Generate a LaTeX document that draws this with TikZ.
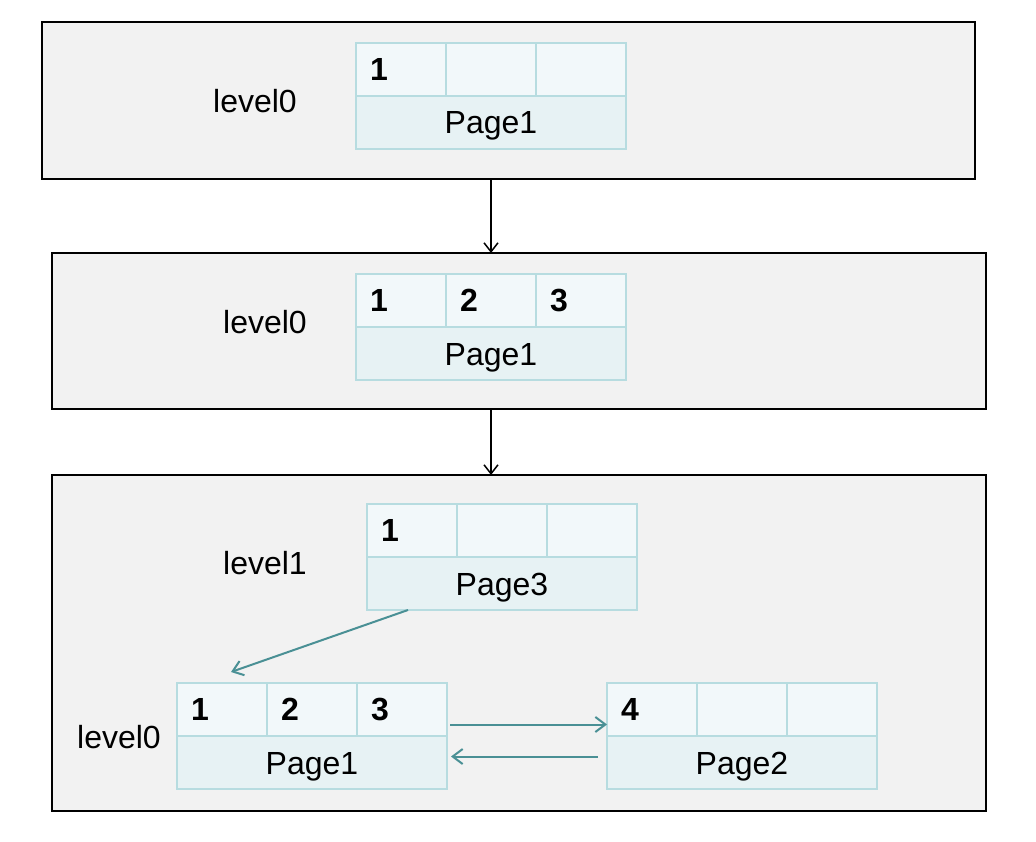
\documentclass[tikz,border=0pt]{standalone}
\usepackage{fontspec}
\setmainfont{Liberation Sans}
\usetikzlibrary{arrows.meta}
\definecolor{framefill}{HTML}{F2F2F2}
\definecolor{cellline}{HTML}{B7DCE0}
\definecolor{celltop}{HTML}{F2F8FA}
\definecolor{cellbot}{HTML}{E7F2F4}
\definecolor{teal}{HTML}{4A9095}
\tikzset{
  frame/.style={draw=black, line width=1.5pt, fill=framefill, inner sep=0pt, outer sep=0pt, anchor=north west},
  whole/.style={inner sep=0pt, outer sep=0pt, minimum width=270pt, minimum height=106pt, anchor=north west},
  topcell/.style={draw=cellline, line width=2pt, fill=celltop, inner sep=0pt, outer sep=0pt, minimum width=90pt, minimum height=53pt, anchor=north west},
  botcell/.style={draw=cellline, line width=2pt, fill=cellbot, inner sep=0pt, outer sep=0pt, minimum width=270pt, minimum height=53pt, anchor=north west, text height=23pt, text depth=0pt, font=\fontsize{32}{36}\selectfont},
  digit/.style={anchor=west, inner sep=0pt, font=\fontsize{32}{36}\selectfont\bfseries},
  lvl/.style={inner sep=0pt, font=\fontsize{32}{36}\selectfont},
  blk/.style={draw=black, line width=1.5pt, -{Straight Barb[length=9pt,width=14pt,line width=1.5pt]}},
  tl/.style={draw=teal, line width=2pt, -{Straight Barb[length=10pt,width=15pt,line width=2pt]}}
}
\newcommand\pagebox[7]{%
  \node[whole] (#1) at (#2,#3) {};
  \node[topcell] (#1-c1) at (#1.north west) {};
  \node[topcell] (#1-c2) at (#1-c1.north east) {};
  \node[topcell] (#1-c3) at (#1-c2.north east) {};
  \node[botcell] (#1-b) at (#1-c1.south west) {#4};
  \node[digit] (#1-d1) at ([xshift=14pt]#1-c1.west) {#5};
  \node[digit] (#1-d2) at ([xshift=14pt]#1-c2.west) {#6};
  \node[digit] (#1-d3) at ([xshift=14pt]#1-c3.west) {#7};
}
\begin{document}
\begin{tikzpicture}[x=1pt,y=-1pt]
\useasboundingbox (0,0) rectangle (1036,842);
\fill[white] (0,0) rectangle (1036,842);
% frames
\node[frame, minimum width=933pt, minimum height=157pt] (f1) at (42,22) {};
\node[frame, minimum width=934pt, minimum height=156pt] (f2) at (52,253) {};
\node[frame, minimum width=934pt, minimum height=336pt] (f3) at (52,475) {};
% labels
\node[lvl] (l1) at (255,101) {level0};
\node[lvl] (l2) at (265,322) {level0};
\node[lvl] (l3) at (265,563) {level1};
\node[lvl] (l4) at (119,737) {level0};
% page boxes
\pagebox{A}{356}{43}{Page1}{1}{}{}
\pagebox{B}{356}{274}{Page1}{1}{2}{3}
\pagebox{C}{367}{504}{Page3}{1}{}{}
\pagebox{D}{177}{683}{Page1}{1}{2}{3}
\pagebox{E}{607}{683}{Page2}{4}{}{}
% connectors
\draw[blk] (A.south |- f1.south) -- (A.south |- f2.north);
\draw[blk] (B.south |- f2.south) -- (B.south |- f3.north);
\draw[tl] ([xshift=41pt]C.south west) -- ([xshift=54pt,yshift=11pt]D.north west);
\draw[tl] ([xshift=3pt,yshift=11.5pt]D.east) -- ([yshift=11.5pt]E.west);
\draw[tl] ([xshift=-9pt,yshift=-20.5pt]E.west) -- ([xshift=4pt,yshift=-20.5pt]D.east);
\end{tikzpicture}
\end{document}
